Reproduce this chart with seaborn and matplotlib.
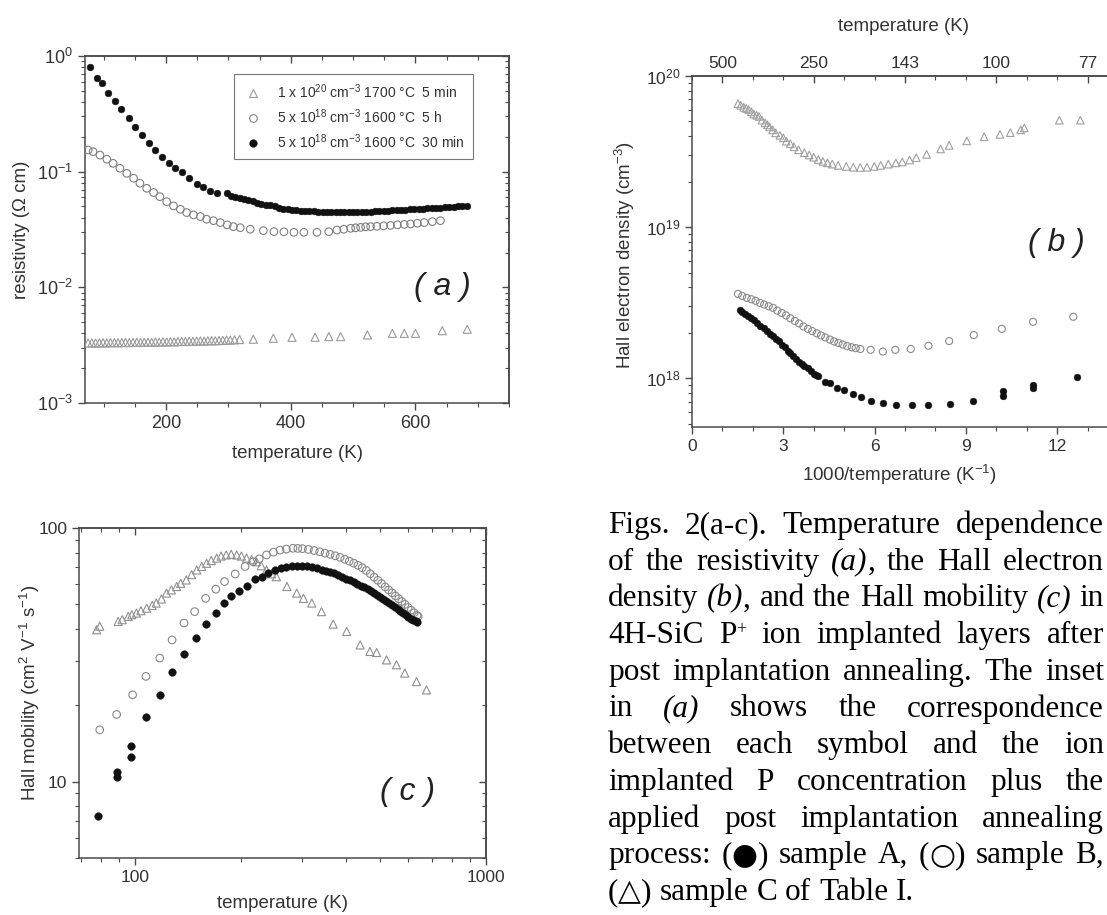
import numpy as np
import pandas as pd
import matplotlib
matplotlib.use("Agg")
import matplotlib.pyplot as plt
import seaborn as sns
from matplotlib.ticker import FixedLocator, MultipleLocator, LogLocator, NullFormatter, FuncFormatter
from matplotlib.lines import Line2D
from matplotlib.font_manager import FontProperties

# ---------------- data ----------------
# (a) resistivity (Ohm cm) vs temperature (K)
a_sampleA = [(78, .81), (89, .64), (97, .59), (107, .48), (118, .41), (128, .35), (140, .29), (150, .245),
             (161, .208), (172, .178), (182, .154), (193, .135), (204, .12), (215, .107), (225, .100),
             (236, .088), (249, .079), (260, .073), (270, .0686), (281, .066),
             (297, .065), (304, .062), (311, .060), (318, .059), (325, .058), (332, .0565), (339, .0553),
             (346, .054), (353, .053), (360, .052), (367, .051), (374, .050), (381, .049), (388, .048),
             (395, .0475), (402, .047), (409, .0465), (416, .046), (423, .0458), (430, .0455), (437, .0453),
             (444, .0451), (451, .045), (458, .045), (465, .0449), (472, .0449), (479, .0449), (486, .0449),
             (493, .045), (500, .045), (507, .045), (514, .045), (521, .0451), (528, .0452), (535, .0453),
             (542, .0455), (549, .0457), (556, .046), (563, .0462), (570, .0464), (577, .0467), (584, .047),
             (591, .0473), (598, .0475), (605, .0478), (612, .048), (619, .0482), (626, .0485), (633, .0488),
             (640, .049), (647, .0492), (654, .0495), (661, .0498), (668, .050), (675, .0502), (682, .0505)]
a_sampleB = [(75, .154), (83, .149), (94, .139), (105, .128), (115, .118), (126, .107), (137, .0968),
             (148, .0877), (158, .0794), (169, .0718), (180, .066), (190, .0608), (201, .055), (212, .0506),
             (223, .0473), (233, .0443), (244, .0423), (255, .0409), (265, .0388), (276, .0377), (287, .0363),
             (298, .0347), (308, .0335), (319, .0328), (335, .0318), (356, .0309), (373, .0303), (389, .0302),
             (405, .0299), (421, .0299), (442, .0299), (461, .0303), (474, .0313), (485, .0318), (496, .0324),
             (504, .0327), (512, .033), (520, .0333), (528, .0335), (538, .0337), (549, .034), (560, .0343),
             (571, .0347), (582, .035), (592, .0353), (603, .0358), (614, .0363), (627, .037), (640, .0377)]
a_sampleC = [(75, .00330), (81, .00331), (87, .00330), (93, .00331), (99, .00332), (105, .00331),
             (111, .00332), (117, .00333), (123, .00332), (129, .00333), (135, .00334), (141, .00333),
             (147, .00334), (153, .00335), (159, .00334), (165, .00335), (171, .00336), (177, .00335),
             (183, .00337), (189, .00336), (195, .00338), (201, .00337), (207, .00339), (213, .00338),
             (219, .00340), (225, .00341), (231, .00340), (237, .00342), (243, .00341), (249, .00343),
             (255, .00344), (261, .00343), (267, .00345), (273, .00346), (279, .00345), (285, .00347),
             (291, .00348), (297, .00350), (303, .00350), (310, .00352), (318, .00354), (340, .00356),
             (372, .00363), (402, .00370), (439, .00370), (461, .00375), (480, .00375), (523, .00388),
             (563, .00400), (582, .00400), (600, .00400), (643, .00422), (683, .00434)]
legend_labels = [r"1 x 10$^{20}$ cm$^{-3}$ 1700 °C  5 min",
                 r"5 x 10$^{18}$ cm$^{-3}$ 1600 °C  5 h",
                 r"5 x 10$^{18}$ cm$^{-3}$ 1600 °C  30 min"]

# (b) Hall electron density (cm^-3) vs 1000/T (1/K)
b_sampleC = [(1.51, 6.57e19), (1.6, 6.4e19), (1.7, 6.2e19), (1.78, 6.1e19), (1.86, 6.0e19), (1.95, 5.8e19),
             (2.03, 5.6e19), (2.12, 5.5e19), (2.2, 5.4e19), (2.3, 5.1e19), (2.4, 4.9e19), (2.48, 4.75e19),
             (2.55, 4.6e19), (2.65, 4.4e19), (2.75, 4.2e19), (2.89, 4.05e19), (3.0, 3.9e19), (3.1, 3.7e19),
             (3.23, 3.56e19), (3.35, 3.4e19), (3.5, 3.25e19), (3.69, 3.11e19), (3.85, 3.0e19), (4.0, 2.9e19),
             (4.15, 2.8e19), (4.3, 2.72e19), (4.45, 2.66e19), (4.61, 2.61e19), (4.8, 2.56e19), (5.07, 2.52e19),
             (5.3, 2.49e19), (5.53, 2.48e19), (5.75, 2.49e19), (5.99, 2.52e19), (6.2, 2.56e19), (6.45, 2.61e19),
             (6.7, 2.66e19), (6.91, 2.70e19), (7.15, 2.78e19), (7.37, 2.88e19), (7.71, 3.03e19), (8.17, 3.29e19),
             (8.45, 3.47e19), (9.03, 3.72e19), (9.60, 3.96e19), (10.12, 4.11e19), (10.46, 4.22e19),
             (10.8, 4.4e19), (10.92, 4.53e19), (12.07, 5.1e19), (12.76, 5.1e19)]
b_sampleB = [(1.51, 3.61e18), (1.65, 3.5e18), (1.8, 3.4e18), (1.95, 3.33e18), (2.09, 3.25e18), (2.23, 3.15e18),
             (2.37, 3.07e18), (2.52, 2.99e18), (2.66, 2.92e18), (2.8, 2.8e18), (2.95, 2.7e18), (3.09, 2.6e18),
             (3.23, 2.49e18), (3.38, 2.39e18), (3.52, 2.3e18), (3.66, 2.2e18), (3.81, 2.12e18), (3.95, 2.05e18),
             (4.1, 1.98e18), (4.24, 1.92e18), (4.38, 1.86e18), (4.53, 1.8e18), (4.67, 1.75e18), (4.81, 1.71e18),
             (4.95, 1.67e18), (5.1, 1.63e18), (5.25, 1.6e18), (5.38, 1.58e18), (5.53, 1.56e18), (5.87, 1.54e18),
             (6.27, 1.50e18), (6.68, 1.54e18), (7.19, 1.56e18), (7.77, 1.64e18), (8.45, 1.76e18),
             (9.26, 1.93e18), (10.18, 2.12e18), (11.21, 2.36e18), (12.53, 2.55e18)]
b_sampleA = [(1.57, 2.84e18), (1.65, 2.75e18), (1.75, 2.65e18), (1.85, 2.57e18), (1.95, 2.5e18), (2.05, 2.43e18),
             (2.15, 2.33e18), (2.25, 2.22e18), (2.35, 2.14e18), (2.45, 2.05e18), (2.55, 1.97e18), (2.66, 1.91e18),
             (2.75, 1.83e18), (2.85, 1.75e18), (2.95, 1.67e18), (3.05, 1.6e18), (3.15, 1.52e18), (3.23, 1.46e18),
             (3.33, 1.40e18), (3.43, 1.34e18), (3.53, 1.28e18), (3.61, 1.24e18), (3.69, 1.21e18), (3.8, 1.16e18),
             (3.9, 1.11e18), (4.0, 1.07e18), (4.08, 1.05e18), (4.15, 1.03e18), (4.38, 9.45e17), (4.55, 9.3e17),
             (4.78, 8.6e17), (5.01, 8.4e17), (5.28, 7.8e17), (5.55, 7.5e17), (5.87, 7.1e17), (6.27, 6.9e17),
             (6.70, 6.65e17), (7.23, 6.6e17), (7.77, 6.6e17), (8.48, 6.76e17), (9.22, 7.1e17), (10.21, 8.2e17),
             (10.21, 7.6e17), (11.21, 8.95e17), (11.21, 8.6e17), (12.64, 1.02e18)]
b_top_pos = [1, 4, 7, 10, 13]
b_top_labels = ["500", "250", "143", "100", "77"]

# (c) Hall mobility (cm^2/Vs) vs temperature (K)
c_sampleC = [(77.8, 39.7), (79.4, 41.0), (89.6, 42.8), (92, 43.5), (95.7, 44.8), (98, 45.5), (101, 46.2),
             (104, 47.2), (108, 48.3), (112, 49.5), (115, 50.6), (119, 52.5), (123, 55.4), (127, 57.0),
             (131.5, 58.8), (135, 60.5), (140, 62.4), (145, 65.5), (150, 68.3), (155, 70.5), (160, 72.6),
             (165, 74.5), (171, 76.1), (176, 77.5), (182, 78.3), (188, 78.8), (195, 78.3), (201, 77.5),
             (208, 76.1), (215, 75.0), (222, 73.6), (229, 71.0), (237, 68.3), (245, 66.0), (253, 64.3),
             (271, 58.8), (289, 55.4), (302, 52.8), (319, 50.6), (340, 46.8), (367, 41.8), (401, 39.1),
             (438, 34.6), (467, 32.6), (488, 32.3), (521, 30.2), (556, 28.9), (587, 26.8), (634, 24.8),
             (677, 23.0)]
c_sampleB = [(79.4, 16.0), (88.7, 18.4), (98.5, 22.0), (107.5, 26.0), (117.7, 30.7), (127.6, 36.2),
             (138, 42.2), (148, 46.8), (159, 52.8), (170, 57.4), (180, 61.5), (193, 65.9), (206, 70.5),
             (217, 73.6), (226, 75.6), (237, 78.3), (248, 80.3), (259, 81.8), (270, 82.6), (282, 83.2),
             (291, 83.1), (300, 82.9), (312, 82.3), (324, 81.5), (336, 80.6), (348, 79.6), (360, 78.7),
             (372, 77.7), (384, 76.6), (396, 75.3), (408, 74.0), (420, 72.7), (432, 71.3), (444, 69.7),
             (456, 68.0), (468, 66.0), (480, 64.0), (492, 62.2), (504, 60.4), (516, 58.6), (528, 57.0),
             (540, 55.5), (552, 54.0), (564, 52.6), (576, 51.3), (588, 50.0), (600, 48.6), (612, 47.4),
             (624, 46.3), (636, 45.2), (641, 44.8)]
c_sampleA = [(78.5, 7.35), (88.7, 10.9), (88.7, 10.4), (97.5, 13.8), (97.5, 12.5), (107.5, 18.0),
             (117.7, 21.9), (127.6, 27.0), (138, 31.8), (149, 36.8), (159, 41.9), (170, 46.1), (179, 50.6),
             (188, 53.7), (198, 56.6), (209, 59.1), (220, 62.8), (230, 64.3), (240, 66.5), (250, 68.0),
             (260, 69.4), (270, 70.2), (280, 70.6), (290, 70.8), (300, 70.8), (310, 70.6), (320, 70.2),
             (330, 69.5), (340, 68.6), (350, 67.8), (360, 67.0), (370, 66.3), (380, 65.4), (390, 64.3),
             (400, 63.2), (410, 62.4), (420, 61.2), (430, 60.2), (440, 59.2), (450, 58.4), (460, 57.4),
             (470, 56.4), (480, 55.3), (490, 54.3), (500, 53.4), (510, 52.4), (520, 51.4), (530, 50.4),
             (540, 49.6), (550, 48.6), (560, 47.8), (570, 46.9), (580, 46.1), (590, 45.3), (600, 44.6),
             (610, 43.9), (620, 43.3), (630, 42.8), (634, 42.6)]

# ---------------- style ----------------
sns.set_theme(style="ticks")
plt.rcParams["font.family"] = ["Liberation Sans", "DejaVu Sans"]
plt.rcParams["mathtext.fontset"] = "custom"
plt.rcParams["mathtext.rm"] = "Liberation Sans"
plt.rcParams["mathtext.it"] = "Liberation Sans:italic"
plt.rcParams["mathtext.bf"] = "Liberation Sans:bold"

W, H = 1107, 915
fig = plt.figure(figsize=(W / 100, H / 100), dpi=100)
fig.patch.set_facecolor("white")


def axes_px(l, t, r, b):
    return fig.add_axes([l / W, 1 - b / H, (r - l) / W, (b - t) / H])


ax_a = axes_px(85, 56, 509, 403)
ax_b = axes_px(692, 76, 1115, 427)
ax_c = axes_px(79, 528, 486, 858)

SPINE = "#4a4a4a"
TXT = "#333333"
BLACK = "#111111"


def scatter(ax, pairs, marker, s, color, filled, lw=0.8):
    df = pd.DataFrame(pairs, columns=["x", "y"])
    sns.scatterplot(data=df, x="x", y="y", ax=ax, marker=marker, s=s, color=color,
                    edgecolor=color, linewidth=lw, legend=False, zorder=3)
    coll = ax.collections[-1]
    if not filled:
        coll.set_facecolor("none")
        coll.set_edgecolor(color)
        coll.set_linewidth(lw)


def style(ax, fs):
    for sp in ax.spines.values():
        sp.set_visible(True)
        sp.set_linewidth(1.1)
        sp.set_color(SPINE)
    ax.tick_params(which="both", direction="out", color=SPINE, labelcolor=TXT,
                   labelsize=fs, top=False, right=False)
    ax.tick_params(which="major", length=5, width=1.0)
    ax.tick_params(which="minor", length=3, width=0.8)


def pow10(v, p):
    return r"$\mathdefault{10^{%d}}$" % int(round(np.log10(v)))


def mirror(ax, xloc_maj, xloc_min, yloc_maj, yloc_min, top=True):
    if top:
        sx = ax.secondary_xaxis("top")
        sx.xaxis.set_major_locator(xloc_maj)
        sx.xaxis.set_minor_locator(xloc_min)
        sx.xaxis.set_major_formatter(NullFormatter())
        sx.xaxis.set_minor_formatter(NullFormatter())
        sx.tick_params(which="both", direction="in", color=SPINE)
        sx.tick_params(which="major", length=5, width=1.0)
        sx.tick_params(which="minor", length=3, width=0.8)
        sx.spines["top"].set_color(SPINE)
        sx.spines["top"].set_linewidth(1.1)
    sy = ax.secondary_yaxis("right")
    sy.yaxis.set_major_locator(yloc_maj)
    sy.yaxis.set_minor_locator(yloc_min)
    sy.yaxis.set_major_formatter(NullFormatter())
    sy.yaxis.set_minor_formatter(NullFormatter())
    sy.tick_params(which="both", direction="in", color=SPINE)
    sy.tick_params(which="major", length=5, width=1.0)
    sy.tick_params(which="minor", length=3, width=0.8)
    sy.spines["right"].set_color(SPINE)
    sy.spines["right"].set_linewidth(1.1)


# ---------------- panel (a) ----------------
scatter(ax_a, a_sampleC, "^", 34, "#9a9a9a", False)
scatter(ax_a, a_sampleB, "o", 30, "#808080", False)
scatter(ax_a, a_sampleA, "o", 24, BLACK, True, lw=0.3)
ax_a.set_yscale("log")
ax_a.set_xlim(70, 750)
ax_a.set_ylim(1e-3, 1e0)
style(ax_a, 13)
ax_a.xaxis.set_major_locator(FixedLocator([200, 400, 600]))
ax_a.xaxis.set_minor_locator(MultipleLocator(50))
ax_a.yaxis.set_major_locator(LogLocator(base=10, numticks=10))
ax_a.yaxis.set_minor_locator(LogLocator(base=10, subs=np.arange(2, 10), numticks=10))
ax_a.yaxis.set_major_formatter(FuncFormatter(pow10))
ax_a.yaxis.set_minor_formatter(NullFormatter())
ax_a.set_xlabel("temperature (K)", fontsize=13.5, color=TXT)
ax_a.set_ylabel("resistivity (\u03a9 cm)", fontsize=13.5, color=TXT)
ax_a.xaxis.set_label_coords(0.5, -0.121)
ax_a.yaxis.set_label_coords(-0.13, 0.5)
mirror(ax_a, FixedLocator([200, 400, 600]), MultipleLocator(50),
       LogLocator(base=10, numticks=10), LogLocator(base=10, subs=np.arange(2, 10), numticks=10))
ax_a.text(0.842, 0.334, "( a )", transform=ax_a.transAxes, fontsize=23, style="italic",
          color="#222222", ha="center", va="center")
handles = [Line2D([], [], ls="none", marker="^", ms=6, mfc="none", mec="#9a9a9a", mew=0.8),
           Line2D([], [], ls="none", marker="o", ms=5.5, mfc="none", mec="#808080", mew=0.8),
           Line2D([], [], ls="none", marker="o", ms=5.5, mfc=BLACK, mec=BLACK, mew=0.3)]
leg = ax_a.legend(handles, legend_labels, loc="upper right", bbox_to_anchor=(0.915, 0.948),
                  fontsize=10, frameon=True, fancybox=False, edgecolor="#777777", framealpha=1,
                  borderpad=0.6, handletextpad=0.9, labelspacing=0.45, handlelength=1.6,
                  borderaxespad=0)
leg.get_frame().set_linewidth(0.8)
for t in leg.get_texts():
    t.set_color(TXT)

# ---------------- panel (b) ----------------
scatter(ax_b, b_sampleC, "^", 30, "#a0a0a0", False)
scatter(ax_b, b_sampleB, "o", 26, "#8a8a8a", False)
scatter(ax_b, b_sampleA, "o", 24, BLACK, True, lw=0.3)
ax_b.set_yscale("log")
ax_b.set_xlim(0, 13.9)
ax_b.set_ylim(4.75e17, 1e20)
style(ax_b, 12.5)
ax_b.xaxis.set_major_locator(FixedLocator([0, 3, 6, 9, 12]))
ax_b.xaxis.set_minor_locator(MultipleLocator(1))
ax_b.yaxis.set_major_locator(LogLocator(base=10, numticks=10))
ax_b.yaxis.set_minor_locator(LogLocator(base=10, subs=np.arange(2, 10), numticks=10))
ax_b.yaxis.set_major_formatter(FuncFormatter(pow10))
ax_b.yaxis.set_minor_formatter(NullFormatter())
ax_b.set_xlabel(r"1000/temperature (K$^{-1}$)", fontsize=13.5, color=TXT)
ax_b.set_ylabel(r"Hall electron density (cm$^{-3}$)", fontsize=13.5, color=TXT)
ax_b.xaxis.set_label_coords(0.49, -0.103)
ax_b.yaxis.set_label_coords(-0.13, 0.49)
sxb = ax_b.secondary_xaxis("top")
sxb.xaxis.set_major_locator(FixedLocator(b_top_pos))
sxb.xaxis.set_major_formatter(FuncFormatter(lambda v, p: dict(zip(b_top_pos, b_top_labels)).get(int(round(v)), "")))
sxb.xaxis.set_minor_locator(MultipleLocator(1))
sxb.tick_params(which="both", direction="in", color=SPINE, labelcolor=TXT, labelsize=12.5)
sxb.tick_params(which="major", length=5, width=1.0)
sxb.tick_params(which="minor", length=3, width=0.8)
sxb.spines["top"].set_color(SPINE)
sxb.spines["top"].set_linewidth(1.1)
sxb.set_xlabel("temperature (K)", fontsize=13.5, color=TXT, labelpad=18)
ax_b.text(0.861, 0.524, "( b )", transform=ax_b.transAxes, fontsize=23, style="italic",
          color="#222222", ha="center", va="center")

# ---------------- panel (c) ----------------
scatter(ax_c, c_sampleC, "^", 34, "#909090", False)
scatter(ax_c, c_sampleB, "o", 30, "#888888", False)
scatter(ax_c, c_sampleA, "o", 30, BLACK, True, lw=0.3)
ax_c.set_xscale("log")
ax_c.set_yscale("log")
ax_c.set_xlim(69.3, 1000)
ax_c.set_ylim(5, 100)
style(ax_c, 12.5)
ax_c.xaxis.set_major_locator(FixedLocator([100, 1000]))
ax_c.xaxis.set_major_formatter(FuncFormatter(lambda v, p: "%d" % v))
ax_c.xaxis.set_minor_locator(LogLocator(base=10, subs=np.arange(2, 10), numticks=10))
ax_c.xaxis.set_minor_formatter(NullFormatter())
ax_c.yaxis.set_major_locator(FixedLocator([10, 100]))
ax_c.yaxis.set_major_formatter(FuncFormatter(lambda v, p: "%d" % v))
ax_c.yaxis.set_minor_locator(LogLocator(base=10, subs=np.arange(2, 10), numticks=10))
ax_c.yaxis.set_minor_formatter(NullFormatter())
ax_c.set_xlabel("temperature (K)", fontsize=13.5, color=TXT)
ax_c.set_ylabel(r"Hall mobility (cm$^{2}$ V$^{-1}$ s$^{-1}$)", fontsize=13.5, color=TXT)
ax_c.xaxis.set_label_coords(0.5, -0.112)
ax_c.yaxis.set_label_coords(-0.092, 0.5)
mirror(ax_c, FixedLocator([100, 1000]), LogLocator(base=10, subs=np.arange(2, 10), numticks=10),
       FixedLocator([10, 100]), LogLocator(base=10, subs=np.arange(2, 10), numticks=10))
ax_c.text(0.808, 0.2, "( c )", transform=ax_c.transAxes, fontsize=23, style="italic",
          color="#222222", ha="center", va="center")

# ---------------- caption (justified serif text) ----------------
fig.canvas.draw()
rend = fig.canvas.get_renderer()
SERIF = ["Liberation Serif", "DejaVu Serif"]
CAP = 22.5
N = FontProperties(family=SERIF, size=CAP)
IT = FontProperties(family=SERIF, style="italic", size=CAP)
SUP = FontProperties(family=SERIF, size=13)
SY = FontProperties(family=["DejaVu Sans"], size=CAP * 0.95)


def sg(t, fp=N, rise=0.0):
    return (t, fp, rise)


def plain(*words):
    return [[sg(w)] for w in words]


caption_lines = [
    plain("Figs.", "2(a-c).", "Temperature", "dependence"),
    plain("of", "the", "resistivity") + [[sg("(a)", IT), sg(",")]] + plain("the", "Hall", "electron"),
    plain("density") + [[sg("(b)", IT), sg(",")]] + plain("and", "the", "Hall", "mobility")
    + [[sg("(c)", IT)]] + plain("in"),
    plain("4H-SiC") + [[sg("P"), sg("+", SUP, 9)]] + plain("ion", "implanted", "layers", "after"),
    plain("post", "implantation", "annealing.", "The", "inset"),
    plain("in") + [[sg("(a)", IT)]] + plain("shows", "the", "correspondence"),
    plain("between", "each", "symbol", "and", "the", "ion"),
    plain("implanted", "P", "concentration", "plus", "the"),
    plain("applied", "post", "implantation", "annealing"),
    plain("process:") + [[sg("("), sg("\u25cf", SY), sg(")")]] + plain("sample", "A,")
    + [[sg("("), sg("\u25cb", SY), sg(")")]] + plain("sample", "B,"),
    [[sg("("), sg("\u25b3", SY), sg(")")]] + plain("sample", "C", "of", "Table", "I."),
]


def tw(t, fp):
    return rend.get_text_width_height_descent(t, fp, ismath=False)[0]


L, R, B0, LH = 608, 1104, 533, 36.7
space_w = tw("a a", N) - tw("aa", N)
for i, words in enumerate(caption_lines):
    widths = [sum(tw(t, fp) for t, fp, _ in wd) for wd in words]
    last = (i == len(caption_lines) - 1)
    gap = space_w if last else (R - L - sum(widths)) / (len(words) - 1)
    x = L
    y = B0 + i * LH
    for wd, ww in zip(words, widths):
        xx = x
        for t, fp, rise in wd:
            fig.text(xx / W, 1 - (y - rise) / H, t, fontproperties=fp, ha="left", va="baseline",
                     color="black")
            xx += tw(t, fp)
        x += ww + gap

fig.savefig("out.png", dpi=100, facecolor="white")
